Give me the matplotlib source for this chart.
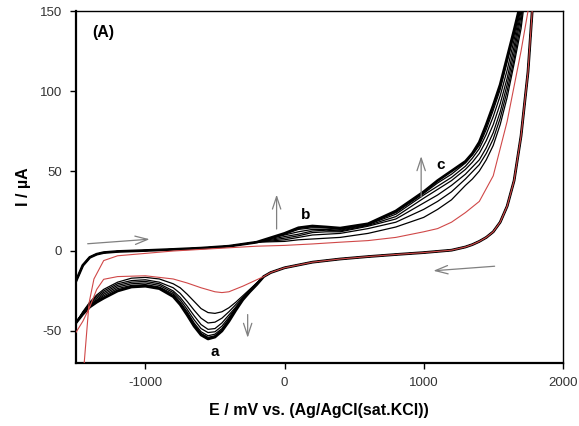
import numpy as np
import matplotlib
matplotlib.use("Agg")
import matplotlib.pyplot as plt

plt.rcParams['font.family'] = ['Liberation Sans', 'DejaVu Sans']
plt.rcParams['axes.unicode_minus'] = False

# ---------------- data ----------------
# forward (anodic) sweep, shared left part for the black cycles
E_fwd_left = [-1550, -1500, -1450, -1400, -1350, -1300, -1200, -1000, -800, -600, -400, -200]
I_fwd_left_black = [-30, -19, -9, -4, -2, -1, -0.3, 0.3, 1.0, 1.8, 3.0, 5.5]

# forward sweep, right part, one row per black cycle (inner -> outer)
E_fwd_right = [0, 100, 200, 300, 400, 600, 800, 1000, 1100, 1200, 1300, 1350, 1400,
               1450, 1500, 1550, 1600, 1650, 1700, 1760]
I_fwd_k0 = [6.0, 7.0, 7.5, 8.0, 8.5, 11.0, 15.0, 21, 26, 32, 41, 45, 50, 57, 66, 79, 96, 117, 139, 180]
I_fwd_k1 = [7.0, 8.5, 10.0, 10.5, 11.0, 14.0, 18.0, 26, 31, 37, 45, 49.5, 54, 61, 70, 83, 100, 120, 143, 185]
I_fwd_k2 = [8.0, 9.5, 11.5, 12.0, 12.0, 15.5, 20.0, 30, 35, 41, 48, 52.5, 57, 64.5, 74, 87, 104, 124, 147, 190]
I_fwd_k3 = [9.0, 10.5, 12.5, 13.0, 12.5, 16.0, 21.5, 33, 38.5, 44, 51, 55.5, 61, 69, 79, 92, 108, 128, 150, 195]
I_fwd_k4 = [10.0, 12.0, 13.5, 13.5, 13.0, 16.5, 23.0, 35, 40.5, 46, 53, 58, 64, 73, 84, 97, 113, 132, 152, 195]
I_fwd_k5 = [10.5, 13.5, 14.5, 14.5, 13.5, 17.0, 24.0, 36, 42.5, 48, 55, 60, 66, 76, 88, 101, 118, 135, 154, 195]
I_fwd_k6 = [11.0, 14.5, 15.6, 15.0, 14.3, 17.0, 25.0, 37, 44, 50, 56, 61, 68, 79, 91, 104, 121, 138, 156, 200]

# reverse (cathodic) sweep, part shared by all cycles
E_rev_right = [1800, 1780, 1750, 1700, 1650, 1600, 1550, 1500, 1450, 1400, 1350, 1300, 1200,
               1000, 800, 600, 400, 200, 0, -100, -150]
I_rev_right = [200, 150, 112, 72, 44, 28, 18, 12, 8.5, 6, 4, 2.5, 0.5,
               -1, -2.2, -3.5, -5, -7, -10.5, -13.5, -16]

# reverse sweep, left part, one row per black cycle
E_rev_left = [-200, -250, -300, -350, -400, -450, -500, -550, -600, -650, -700, -750, -800,
              -900, -1000, -1100, -1200, -1300, -1350, -1400, -1450, -1500, -1550]
I_rev_k0 = [-20, -24, -28, -32, -35.5, -38, -39, -38.5, -36, -31.5, -27, -23, -20.5,
            -17.5, -16.5, -17, -19.5, -24, -27.5, -32, -38, -45, -50]
I_rev_k1 = [-20, -24.5, -29, -33.5, -38, -42, -44.5, -45, -42, -37, -31.5, -26.5, -23,
            -19.5, -18, -18.5, -20.5, -25, -28.5, -32.5, -38.5, -45, -50]
I_rev_k2 = [-20.5, -25, -29.5, -35, -40, -45, -48.5, -49, -46, -40.5, -34.5, -29, -25,
            -20.5, -19, -19.5, -21.5, -26, -29.5, -33, -38.5, -45, -50]
I_rev_k3 = [-20.5, -25, -30, -35.5, -41.5, -47, -50.5, -51, -48.5, -43, -36.5, -30.5, -26,
            -21.5, -20, -20.5, -22.5, -27, -30.5, -33.5, -39, -45, -50]
I_rev_k4 = [-21, -25.5, -30, -36, -42.5, -48.5, -52, -53, -50.5, -45, -38, -32, -27,
            -22.5, -21, -21.5, -23.5, -28, -31, -34, -39, -45, -50]
I_rev_k5 = [-21, -25.5, -30.5, -36.5, -43.5, -49.5, -53, -54, -51.5, -46, -39, -33, -28,
            -23, -21.5, -22, -24.5, -29, -31.5, -34.5, -39.5, -45, -50]
I_rev_k6 = [-21, -25.5, -30.5, -37, -44, -50, -53.8, -55, -52.5, -47, -40, -33.5, -28.5,
            -23.5, -22, -22.5, -25, -29.5, -32, -35, -39.5, -45, -50]

# first cycle (red)
E_red_fwd = [-1460, -1440, -1405, -1370, -1300, -1200, -1000, -800, -600, -400, -200, 0, 200,
             400, 600, 800, 1000, 1100, 1200, 1300, 1400, 1500, 1600, 1700, 1750, 1790]
I_red_fwd = [-80, -70, -32.5, -17.5, -6, -3, -1.5, 0, 1, 2, 3, 3.5, 4.4,
             5.5, 6.5, 8.5, 12, 14, 18, 24, 31, 47, 81, 125, 150, 200]
E_red_rev = [-200, -300, -400, -450, -500, -600, -700, -800, -1000, -1200, -1300, -1350,
             -1400, -1450, -1500, -1550]
I_red_rev = [-18, -22, -25.5, -26, -25.5, -23, -20, -17.5, -15.5, -16, -17.7, -24,
             -35, -44, -51, -56]

fwd_black = [I_fwd_k0, I_fwd_k1, I_fwd_k2, I_fwd_k3, I_fwd_k4, I_fwd_k5, I_fwd_k6]
rev_black = [I_rev_k0, I_rev_k1, I_rev_k2, I_rev_k3, I_rev_k4, I_rev_k5, I_rev_k6]

x_ticks = [-1000, 0, 1000, 2000]
y_ticks = [-50, 0, 50, 100, 150]

# ---------------- figure ----------------
fig = plt.figure(figsize=(5.79, 4.26), dpi=100)
ax = fig.add_axes([0.131, 0.148, 0.841, 0.826])

for k, (f, r) in enumerate(zip(fwd_black, rev_black)):
    E = E_fwd_left + E_fwd_right + E_rev_right + E_rev_left
    I = I_fwd_left_black + f + I_rev_right + r
    lw = 2.0 if k == len(fwd_black) - 1 else 0.9
    ax.plot(E, I, color='black', lw=lw, solid_joinstyle='round', zorder=3)

E_red = E_red_fwd + E_rev_right + E_red_rev
I_red = I_red_fwd + I_rev_right + I_red_rev
ax.plot(E_red, I_red, color='#d04848', lw=0.8, solid_joinstyle='round', zorder=4)

ax.set_xlim(-1500, 2000)
ax.set_ylim(-70, 150)
ax.set_xticks(x_ticks)
ax.set_yticks(y_ticks)
ax.tick_params(axis='both', direction='out', length=4, width=1, labelsize=9.5,
               labelcolor='#333333', top=False, right=False, pad=6)
for s in ['left', 'bottom']:
    ax.spines[s].set_linewidth(1.6)
for s in ['top', 'right']:
    ax.spines[s].set_linewidth(1.0)

ax.set_xlabel('E / mV vs. (Ag/AgCl(sat.KCl))', fontsize=11.5, fontweight='bold', labelpad=10)
ax.set_ylabel('I / µA', fontsize=11.5, fontweight='bold', labelpad=6)

# annotations
arrow_kw = dict(arrowstyle='->,head_length=0.9,head_width=0.3', color='#808080', lw=0.9)
ax.annotate('', xy=(-950, 7.5), xytext=(-1435, 4.4), arrowprops=arrow_kw)
ax.annotate('', xy=(-265, -56), xytext=(-265, -38), arrowprops=arrow_kw)
ax.annotate('', xy=(-57, 37), xytext=(-57, 12), arrowprops=arrow_kw)
ax.annotate('', xy=(982, 61), xytext=(982, 32), arrowprops=arrow_kw)
ax.annotate('', xy=(1050, -12.5), xytext=(1530, -9.4), arrowprops=arrow_kw)

ax.text(-500, -63, 'a', fontsize=11, fontweight='bold', ha='center', va='center')
ax.text(150, 22.5, 'b', fontsize=11, fontweight='bold', ha='center', va='center')
ax.text(1125, 54, 'c', fontsize=11, fontweight='bold', ha='center', va='center')
ax.text(0.033, 0.94, '(A)', transform=ax.transAxes, fontsize=11.5, fontweight='bold',
        ha='left', va='center')

fig.savefig('out.png', dpi=100)
